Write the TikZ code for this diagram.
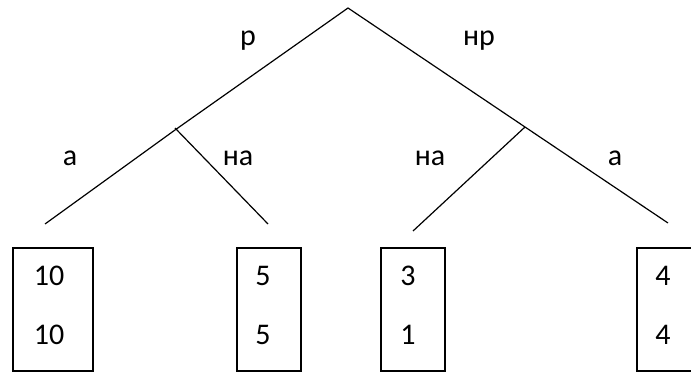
\documentclass[tikz,border=0pt]{standalone}
\usepackage{fontspec}
\setmainfont{Carlito}

\begin{document}
\begin{tikzpicture}[x=1pt,y=-1pt,
    branch/.style={line width=1.2pt},
    payoff/.style={draw,line width=1.2pt,minimum width=64pt,minimum height=123pt,inner sep=0pt},
    lbl/.style={anchor=base,inner sep=0pt,font=\fontsize{30}{36}\selectfont}]
    \useasboundingbox (0,0) rectangle (691,374);

    \coordinate (root) at (348,8);
    \coordinate (pL) at (175,130);
    \coordinate (pLtick) at (175,128);
    \coordinate (pR) at (525,127);
    \coordinate (endLa) at (45,224);
    \coordinate (endLna) at (268,224);
    \coordinate (endRna) at (413,231);
    \coordinate (endRa) at (668,223);

    \draw[branch] (endLa) -- (pL) -- (root) -- (pR) -- (endRa);
    \draw[branch] (pLtick) -- (endLna);
    \draw[branch] (pR) -- (endRna);

    \node[lbl] (r) at (248,46) {р};
    \node[lbl] (nr) at (479,46) {нр};
    \node[lbl] (aL) at (70,166) {а};
    \node[lbl] (naL) at (238,166) {на};
    \node[lbl] (naR) at (430,166) {на};
    \node[lbl] (aR) at (615,166) {а};

    \node[payoff,minimum width=80pt] (box1) at (53,309.5) {};
    \node[payoff] (box2) at (269,309.5) {};
    \node[payoff] (box3) at (413,309.5) {};
    \node[payoff,minimum width=120pt] (box4) at (697,309.5) {};

    \node[lbl] (v1a) at (49,286) {10};
    \node[lbl] (v1b) at (49,344) {10};
    \node[lbl] (v2a) at (263,286) {5};
    \node[lbl] (v2b) at (263,344) {5};
    \node[lbl] (v3a) at (408,286) {3};
    \node[lbl] (v3b) at (408,344) {1};
    \node[lbl] (v4a) at (663,286) {4};
    \node[lbl] (v4b) at (663,344) {4};
\end{tikzpicture}
\end{document}
